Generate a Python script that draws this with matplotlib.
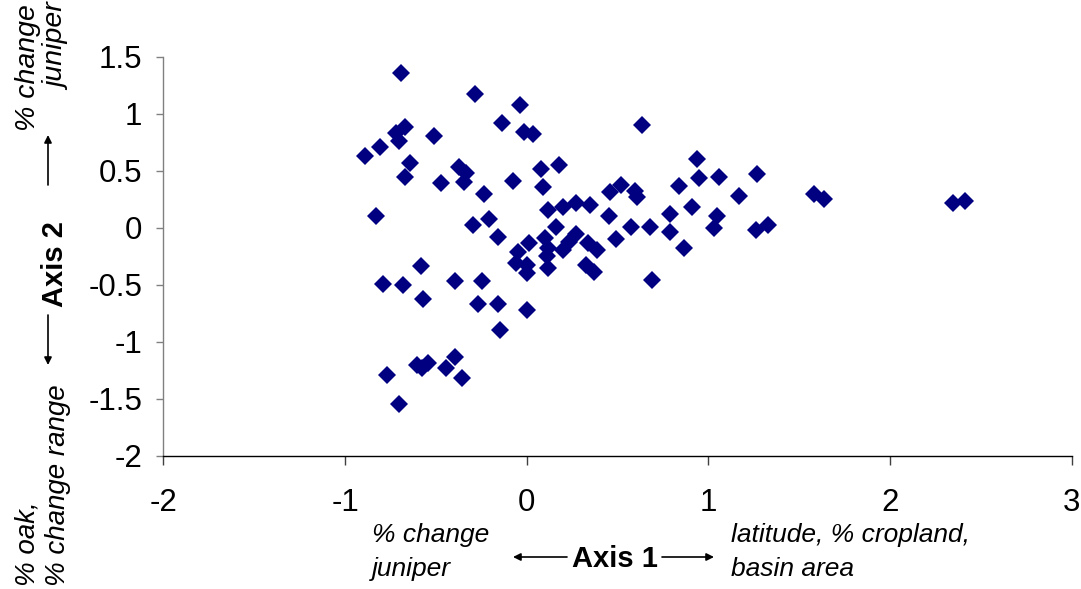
import matplotlib
matplotlib.use("Agg")
import matplotlib.pyplot as plt
from matplotlib.patches import FancyArrowPatch

plt.rcParams['font.family'] = ['Liberation Sans', 'DejaVu Sans']

# Ordination scores (Axis 1, Axis 2) for each site
axis1 = [
    -0.693, -0.283, -0.037, -0.135, -0.671, -0.717, -0.704, -0.508, -0.013, 0.037,
    -0.889, -0.806, -0.643, -0.669, -0.471, -0.375, -0.333, -0.347, -0.233, -0.074,
    0.078, 0.176, 0.089, -0.828, -0.296, -0.209, -0.159, 0.115, 0.201, 0.274,
    0.348, 0.164, 0.013, -0.050, 0.100, 0.115, 0.113, -0.061, 0.002, 0.004,
    0.115, 0.274, 0.235, 0.198, 0.336, 0.385, 0.327, 0.373, -0.580, -0.791,
    -0.680, -0.569, -0.394, -0.246, -0.270, -0.159, 0.004, -0.148, -0.606, -0.578,
    -0.541, -0.443, -0.394, -0.356, -0.767, -0.704, 0.632, 0.935, 0.948, 1.058,
    1.267, 0.840, 1.167, 0.519, 0.459, 0.595, 0.607, 0.909, 1.581, 1.638,
    2.344, 2.413, 0.453, 0.789, 1.045, 1.033, 0.572, 0.679, 0.789, 1.262,
    1.329, 0.492, 0.866, 0.692,
]
axis2 = [
    1.353, 1.175, 1.076, 0.921, 0.881, 0.834, 0.761, 0.802, 0.843, 0.820,
    0.627, 0.706, 0.569, 0.449, 0.391, 0.536, 0.478, 0.405, 0.295, 0.411,
    0.513, 0.548, 0.356, 0.099, 0.020, 0.079, -0.078, 0.157, 0.178, 0.216,
    0.196, 0.003, -0.138, -0.210, -0.090, -0.175, -0.251, -0.313, -0.327, -0.400,
    -0.356, -0.055, -0.127, -0.192, -0.134, -0.192, -0.324, -0.390, -0.332, -0.490,
    -0.507, -0.624, -0.470, -0.470, -0.665, -0.665, -0.723, -0.901, -1.204, -1.228,
    -1.190, -1.234, -1.131, -1.315, -1.292, -1.546, 0.901, 0.606, 0.432, 0.449,
    0.472, 0.370, 0.274, 0.373, 0.312, 0.318, 0.272, 0.178, 0.297, 0.251,
    0.216, 0.236, 0.099, 0.117, 0.099, -0.003, 0.006, 0.003, -0.041, -0.017,
    0.020, -0.095, -0.175, -0.455,
]

x_ticks = [-2, -1, 0, 1, 2, 3]
y_ticks = [-2, -1.5, -1, -0.5, 0, 0.5, 1, 1.5]
y_tick_labels = ['-2', '-1.5', '-1', '-0.5', '0', '0.5', '1', '1.5']

W, H = 1081, 589
fig = plt.figure(figsize=(W / 100, H / 100), dpi=100)
ax = fig.add_axes([163.3 / W, 1 - 455.7 / H, (1071.8 - 163.3) / W, (455.7 - 56.7) / H])

ax.plot(axis1, axis2, linestyle='none', marker='D', markersize=9.2,
        color='#000080', markeredgewidth=0, clip_on=False)

ax.set_xlim(-2, 3)
ax.set_ylim(-2, 1.5)
ax.set_xticks(x_ticks)
ax.set_xticklabels([str(t) for t in x_ticks])
ax.set_yticks(y_ticks)
ax.set_yticklabels(y_tick_labels)

for side in ('top', 'right'):
    ax.spines[side].set_visible(False)
ax.spines['left'].set_color('#808080')
ax.spines['left'].set_linewidth(1.0)
ax.spines['bottom'].set_color('black')
ax.spines['bottom'].set_linewidth(1.0)

ax.tick_params(axis='y', direction='out', length=5, width=1.0, color='#808080',
               labelsize=22.5, pad=10, labelcolor='black')
ax.tick_params(axis='x', direction='out', length=6.5, width=1.0, color='#404040',
               labelsize=22.5, pad=17, labelcolor='black')


def fx(px):
    return px / W


def fy(py):
    return 1 - py / H


def arrow(x0, y0, x1, y1):
    fig.add_artist(FancyArrowPatch((fx(x0), fy(y0)), (fx(x1), fy(y1)),
                                   transform=fig.transFigure, arrowstyle='-|>',
                                   mutation_scale=11, lw=1.2, color='black',
                                   shrinkA=0, shrinkB=0))


# Horizontal axis description
fig.text(fx(372), fy(542), '% change', fontsize=19, style='italic', va='baseline', ha='left')
fig.text(fx(372), fy(576), 'juniper', fontsize=19, style='italic', va='baseline', ha='left')
fig.text(fx(731), fy(542), 'latitude, % cropland,', fontsize=19, style='italic', va='baseline', ha='left')
fig.text(fx(731), fy(576), 'basin area', fontsize=19, style='italic', va='baseline', ha='left')
fig.text(fx(615), fy(567), 'Axis 1', fontsize=21, fontweight='bold', va='baseline', ha='center')
arrow(567, 557, 513, 557)
arrow(662, 557, 714, 557)

# Vertical axis description
fig.text(fx(28), fy(4), '% change', fontsize=20.5, style='italic', rotation=90, ha='center', va='top')
fig.text(fx(58), fy(4), 'juniper', fontsize=20.5, style='italic', rotation=90, ha='center', va='top')
fig.text(fx(28), fy(586), '% oak,', fontsize=20, style='italic', rotation=90, ha='center', va='bottom')
fig.text(fx(58), fy(586), '% change range', fontsize=20, style='italic', rotation=90, ha='center', va='bottom')
fig.text(fx(55), fy(264), 'Axis 2', fontsize=21, fontweight='bold', rotation=90, ha='center', va='center')
arrow(48, 185, 48, 135)
arrow(48, 315, 48, 365)

fig.savefig('out.png', dpi=100, facecolor='white')
